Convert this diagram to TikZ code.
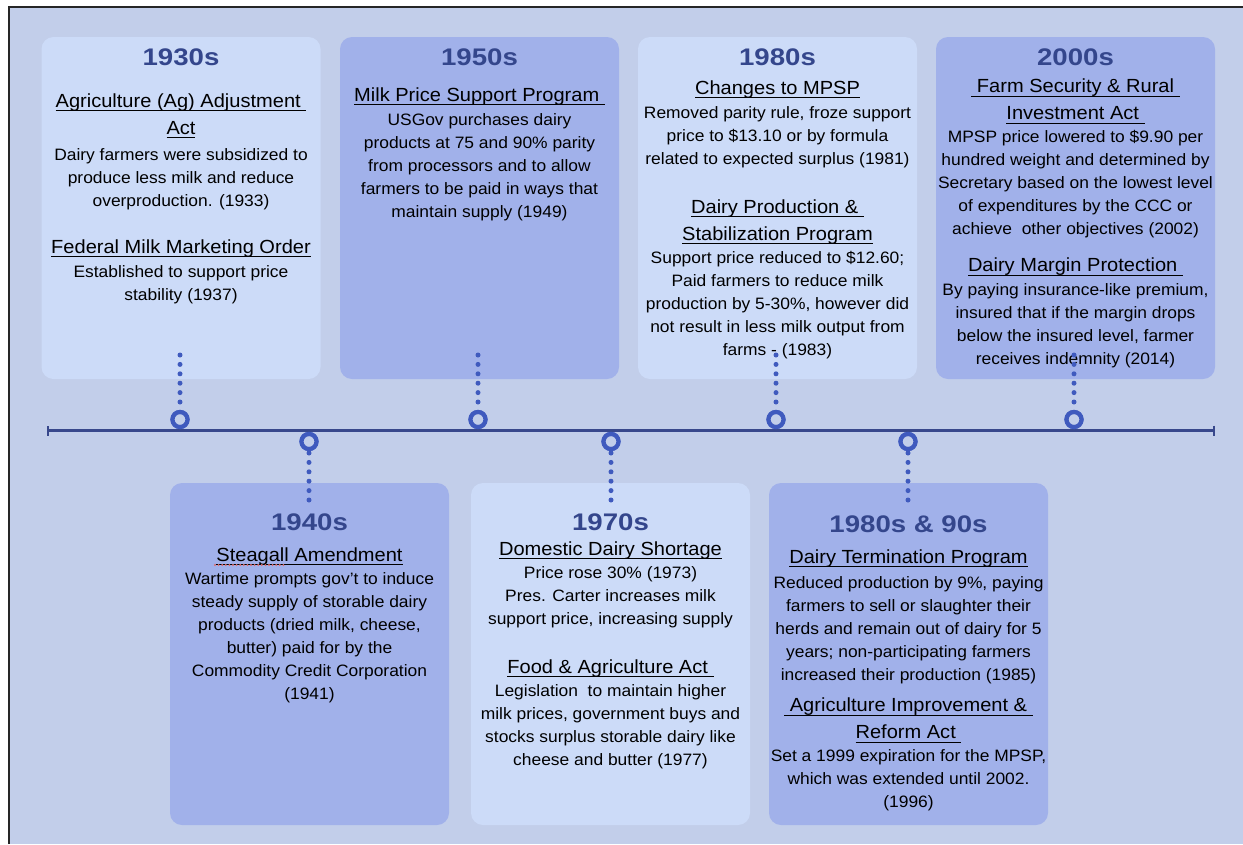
\documentclass[tikz,border=0pt]{standalone}
\usepackage{fontspec}
\setmainfont[FakeStretch=1.055]{Liberation Sans}
\newfontfamily\yearfont[FakeStretch=1.15]{Liberation Sans}
\usetikzlibrary{arrows.meta}
\definecolor{bg}{HTML}{C2CEEA}
\definecolor{lightb}{HTML}{CCDBF8}
\definecolor{darkb}{HTML}{A1B1EA}
\definecolor{navy}{HTML}{34468C}
\definecolor{dotc}{HTML}{3F5ABE}
\definecolor{lineblue}{HTML}{38488C}
\definecolor{spell}{HTML}{E06A6A}
\newcommand\uln[1]{\setbox0\hbox{#1}\rlap{\rule[-3.8pt]{\wd0}{1.2pt}}\box0}
\begin{document}
\begin{tikzpicture}[x=1pt,y=-1pt,
  panel/.style={rounded corners=12pt, minimum width=279pt, minimum height=342pt, inner sep=0pt, draw=none},
  lightpanel/.style={panel, fill=lightb},
  darkpanel/.style={panel, fill=darkb},
  yeartxt/.style={anchor=north, inner sep=0pt, text=navy, font={\yearfont\fontsize{24}{30}\selectfont\bfseries}},
  headtxt/.style={anchor=north, inner sep=0pt, align=center, text=black, font={\fontsize{19}{27}\selectfont}},
  bodytxt/.style={anchor=north, inner sep=0pt, align=center, text=black, font={\fontsize{16.5}{23}\selectfont}},
  dotline/.style={draw=dotc, line width=5pt, line cap=round, dash pattern=on 0pt off 9.4pt},
  marker/.style={circle, draw=dotc, line width=4.2pt, fill=bg, minimum size=15pt, inner sep=0pt},
  timeline/.style={draw=lineblue, line width=3pt, {Bar[width=10pt,line width=2pt]}-{Bar[width=10pt,line width=2pt]}},
  spellmark/.style={draw=spell, line width=2.2pt, line cap=round, dash pattern=on 0pt off 3.6pt}
]
\useasboundingbox (0,0) rectangle (1243,844);
\fill[white] (0,0) rectangle (1243,844);
\fill[bg] (9,7) rectangle (1243,844);
\draw[black!85, line width=1.4pt] (9,844) -- (9,7) -- (1243,7);

% panels
\node[lightpanel] (p30) at (181,208) {};
\node[darkpanel]  (p50) at (479.5,208) {};
\node[lightpanel] (p80) at (777.5,208) {};
\node[darkpanel]  (p00) at (1075.5,208) {};
\node[darkpanel]  (p40) at (309.5,654) {};
\node[lightpanel] (p70) at (610.5,654) {};
\node[darkpanel]  (p90) at (908.5,654) {};

% 1930s
\node[yeartxt] (y30) at (181,44) {\strut 1930s};
\node[headtxt] (h30a) at (181,88.1) {\strut\uln{Agriculture (Ag) Adjustment\ }\\\uln{Act}};
\node[bodytxt] (b30a) at (181,143.9) {\strut Dairy farmers were subsidized to\\produce less milk and reduce\\overproduction. (1933)};
\node[headtxt] (h30b) at (181,234.1) {\strut\uln{Federal Milk Marketing Order}};
\node[bodytxt] (b30b) at (181,260.9) {\strut Established to support price\\stability (1937)};

% 1950s
\node[yeartxt] (y50) at (479.5,44) {\strut 1950s};
\node[headtxt] (h50a) at (479.5,82.1) {\strut\uln{Milk Price Support Program\ }};
\node[bodytxt] (b50a) at (479.5,108.9) {\strut USGov purchases dairy\\products at 75 and 90\% parity\\from processors and to allow\\farmers to be paid in ways that\\maintain supply (1949)};

% 1980s
\node[yeartxt] (y80) at (777.5,44) {\strut 1980s};
\node[headtxt] (h80a) at (777.5,75.1) {\strut\uln{Changes to MPSP}};
\node[bodytxt] (b80a) at (777.5,101.9) {\strut Removed parity rule, froze support\\price to \$13.10 or by formula\\related to expected surplus (1981)};
\node[headtxt] (h80b) at (777.5,194.4) {\strut\uln{Dairy Production \&\ }\\\uln{Stabilization Program}};
\node[bodytxt] (b80b) at (777.5,247.2) {\strut Support price reduced to \$12.60;\\Paid farmers to reduce milk\\production by 5-30\%, however did\\not result in less milk output from\\farms - (1983)};

% 2000s
\node[yeartxt] (y00) at (1075.5,44) {\strut 2000s};
\node[headtxt] (h00a) at (1075.5,73.8) {\strut\uln{\ Farm Security \& Rural\ }\\\uln{Investment Act\ }};
\node[bodytxt] (b00a) at (1075.5,126.2) {\strut MPSP price lowered to \$9.90 per\\hundred weight and determined by\\Secretary based on the lowest level\\of expenditures by the CCC or\\achieve\ \ other objectives (2002)};
\node[headtxt] (h00b) at (1075.5,252.8) {\strut\uln{Dairy Margin Protection\ }};
\node[bodytxt] (b00b) at (1075.5,278.9) {\strut By paying insurance-like premium,\\insured that if the margin drops\\below the insured level, farmer\\receives indemnity (2014)};

% 1940s
\node[yeartxt] (y40) at (309.5,509) {\strut 1940s};
\node[headtxt] (h40a) at (309.5,542.1) {\strut\uln{Steagall Amendment}};
\node[bodytxt] (b40a) at (309.5,567.9) {\strut Wartime prompts gov't to induce\\steady supply of storable dairy\\products (dried milk, cheese,\\butter) paid for by the\\Commodity Credit Corporation\\(1941)};
\coordinate (sp1) at (215,565);
\coordinate (sp2) at (284,565);
\draw[spellmark] (sp1) -- (sp2);

% 1970s
\node[yeartxt] (y70) at (610.5,509) {\strut 1970s};
\node[headtxt] (h70a) at (610.5,536.1) {\strut\uln{Domestic Dairy Shortage}};
\node[bodytxt] (b70a) at (610.5,562.2) {\strut Price rose 30\% (1973)\\Pres. Carter increases milk\\support price, increasing supply};
\node[headtxt] (h70b) at (610.5,654.4) {\strut\uln{Food \& Agriculture Act\ }};
\node[bodytxt] (b70b) at (610.5,680.6) {\strut Legislation\ \ to maintain higher\\milk prices, government buys and\\stocks surplus storable dairy like\\cheese and butter (1977)};

% 1980s & 90s
\node[yeartxt] (y90) at (908.5,511.3) {\strut 1980s \& 90s};
\node[headtxt] (h90a) at (908.5,544.4) {\strut\uln{Dairy Termination Program}};
\node[bodytxt] (b90a) at (908.5,572.2) {\strut Reduced production by 9\%, paying\\farmers to sell or slaughter their\\herds and remain out of dairy for 5\\years; non-participating farmers\\increased their production (1985)};
\node[headtxt] (h90b) at (908.5,692.8) {\strut\uln{\ Agriculture Improvement \&\ }\\\uln{Reform Act\ }};
\node[bodytxt] (b90b) at (908.5,745.6) {\strut Set a 1999 expiration for the MPSP,\\which was extended until 2002.\\(1996)};

% timeline
\coordinate (tl) at (47,430.5);
\coordinate (tr) at (1215,430.5);
\draw[timeline] (tl) -- (tr);

% dotted connectors
\coordinate (d1) at (180,355);
\coordinate (d2) at (478,355);
\coordinate (d3) at (776,355);
\coordinate (d4) at (1074,355);
\coordinate (d5) at (309,500);
\coordinate (d6) at (611,500);
\coordinate (d7) at (908,500);
\node[marker] (c1) at (180,419.5) {};
\node[marker] (c2) at (478,419.5) {};
\node[marker] (c3) at (776,419.5) {};
\node[marker] (c4) at (1074,419.5) {};
\node[marker] (c5) at (309,441.5) {};
\node[marker] (c6) at (611,441.5) {};
\node[marker] (c7) at (908,441.5) {};
\foreach \i in {1,2,3,4}{\draw[dotline, shorten >=15pt] (d\i) -- (c\i.center);}
\foreach \i in {5,6,7}{\draw[dotline, shorten >=10pt] (d\i) -- (c\i.center);}
\foreach \i in {1,...,7}{\node[marker] at (c\i) {};}
\end{tikzpicture}
\end{document}
